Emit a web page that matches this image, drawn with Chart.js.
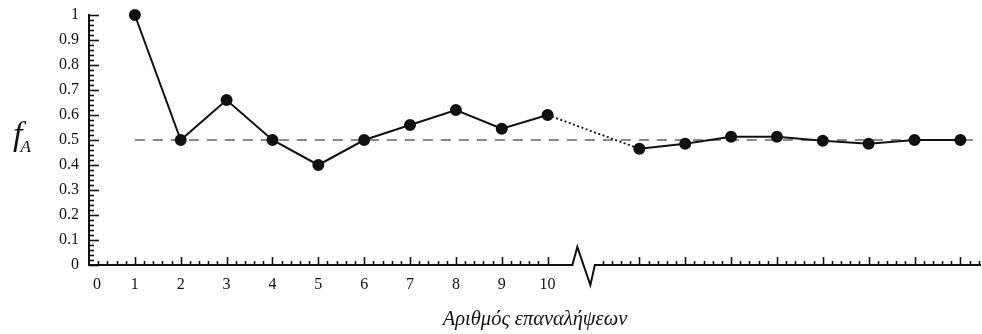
<!DOCTYPE html>
<html>
<head>
<meta charset="utf-8">
<script src="https://cdn.jsdelivr.net/npm/chart.js@4.4.1/dist/chart.umd.min.js"></script>
<style>
  html, body { margin: 0; padding: 0; background: #fff; }
  #wrap { position: relative; width: 982px; height: 334px; }
  #fa { position: absolute; left: 13px; top: 117px; font-family: "Liberation Serif", serif; font-style: italic; font-size: 34px; color: #111; line-height: 1; white-space: nowrap; }
  #fa sub { font-size: 17px; vertical-align: -7px; margin-left: -2px; }
</style>
</head>
<body>
<div id="wrap">
  <canvas id="c" width="982" height="334"></canvas>
  <div id="fa">f<sub>A</sub></div>
</div>
<script>
// ---- data ----
const xTickLabels = [0, 1, 2, 3, 4, 5, 6, 7, 8, 9, 10];
const earlyIter = [1, 2, 3, 4, 5, 6, 7, 8, 9, 10];
const earlyFA   = [1.0, 0.5, 0.66, 0.5, 0.4, 0.5, 0.56, 0.62, 0.545, 0.6];
// positions after the axis break (unlabelled later iterations)
const lateSlots = [12, 13, 14, 15, 16, 17, 18, 19];
const lateFA    = [0.465, 0.485, 0.513, 0.513, 0.497, 0.485, 0.5, 0.5];
const refValue = 0.5;
const yTicks = [0, 0.1, 0.2, 0.3, 0.4, 0.5, 0.6, 0.7, 0.8, 0.9, 1];
const xMax = 19.45;
const breakStart = 10.54, breakEnd = 11.03;

const points = earlyIter.map((x, i) => ({x, y: earlyFA[i]}))
  .concat(lateSlots.map((x, i) => ({x, y: lateFA[i]})));

const INK = '#111';

const axesPlugin = {
  id: 'axesPlugin',
  afterDatasetsDraw(chart) {
    const ctx = chart.ctx;
    const xs = chart.scales.x, ys = chart.scales.y;
    const x0 = xs.getPixelForValue(0);
    const y0 = ys.getPixelForValue(0);
    const y1 = ys.getPixelForValue(1);
    ctx.save();
    ctx.strokeStyle = INK;
    ctx.lineCap = 'butt';
    // y axis line
    ctx.lineWidth = 2;
    ctx.beginPath();
    ctx.moveTo(x0, y0 + 1);
    ctx.lineTo(x0, y1 - 1);
    ctx.stroke();
    // y ticks (inward)
    ctx.lineWidth = 1.6;
    for (let k = 0; k <= 50; k++) {
      const v = k / 50;
      const py = Math.round(ys.getPixelForValue(v)) + 0.5;
      const len = (k % 5 === 0) ? 10 : 5;
      ctx.beginPath();
      ctx.moveTo(x0, py);
      ctx.lineTo(x0 + len, py);
      ctx.stroke();
    }
    // x axis with break
    const pbS = xs.getPixelForValue(breakStart);
    const pbE = xs.getPixelForValue(breakEnd);
    const w = pbE - pbS;
    ctx.lineWidth = 2;
    ctx.lineJoin = 'miter';
    ctx.beginPath();
    ctx.moveTo(x0, y0);
    ctx.lineTo(pbS, y0);
    ctx.lineTo(pbS + w * 0.22, y0 - 18);
    ctx.lineTo(pbS + w * 0.8, y0 + 20);
    ctx.lineTo(pbE, y0);
    ctx.lineTo(xs.right, y0);
    ctx.stroke();
    // x ticks (inward / upward)
    ctx.lineWidth = 1.6;
    const drawTick = (v, len) => {
      const px = Math.round(xs.getPixelForValue(v)) + 0.5;
      ctx.beginPath();
      ctx.moveTo(px, y0);
      ctx.lineTo(px, y0 - len);
      ctx.stroke();
    };
    for (let k = 1; k <= 50; k++) {
      drawTick(k / 5, k % 5 === 0 ? 8 : 4);
    }
    for (let k = 56; k / 5 <= xMax + 1e-9; k++) {
      drawTick(k / 5, k % 5 === 0 ? 8 : 4);
    }
    ctx.restore();
  }
};

new Chart(document.getElementById('c'), {
  type: 'line',
  data: {
    datasets: [
      {
        data: points,
        borderColor: INK,
        backgroundColor: INK,
        borderWidth: 2,
        pointRadius: 5,
        pointBackgroundColor: INK,
        pointBorderColor: INK,
        tension: 0,
        clip: false,
        segment: {
          borderDash: c => (c.p0.parsed.x === earlyIter[earlyIter.length - 1] ? [2, 2.5] : undefined),
          borderWidth: c => (c.p0.parsed.x === earlyIter[earlyIter.length - 1] ? 1.8 : 2)
        },
        order: 0
      },
      {
        data: [{x: earlyIter[0], y: refValue}, {x: xMax, y: refValue}],
        borderColor: '#8a8a8a',
        borderWidth: 2,
        borderDash: [10, 8],
        pointRadius: 0,
        order: 1
      }
    ]
  },
  options: {
    responsive: false,
    devicePixelRatio: 1,
    animation: false,
    layout: { autoPadding: false, padding: { top: 15, right: 1, left: 0, bottom: 0 } },
    plugins: { legend: { display: false }, tooltip: { enabled: false } },
    scales: {
      x: {
        type: 'linear',
        min: 0,
        max: xMax,
        afterBuildTicks: s => { s.ticks = xTickLabels.map(v => ({value: v})); },
        afterFit: s => { s.height = 69; s.paddingLeft = 0; s.paddingRight = 0; },
        grid: { display: false, drawTicks: false },
        border: { display: false },
        ticks: {
          autoSkip: false,
          maxRotation: 0,
          padding: 10,
          color: INK,
          font: { family: 'Liberation Serif', size: 16 },
          callback: v => (v === 0 ? '    0' : String(v))
        },
        title: {
          display: true,
          text: 'Αριθμός επαναλήψεων',
          color: INK,
          font: { family: 'Liberation Serif', size: 20.5, style: 'italic' },
          padding: { top: 0, bottom: 2 }
        }
      },
      y: {
        type: 'linear',
        min: 0,
        max: 1,
        afterBuildTicks: s => { s.ticks = yTicks.map(v => ({value: v})); },
        afterFit: s => { s.width = 89; s.paddingTop = 0; s.paddingBottom = 0; },
        grid: { display: false, drawTicks: false },
        border: { display: false },
        ticks: {
          autoSkip: false,
          padding: 10,
          color: INK,
          font: { family: 'Liberation Serif', size: 16 },
          callback: v => String(v)
        }
      }
    }
  },
  plugins: [axesPlugin]
});
</script>
</body>
</html>
